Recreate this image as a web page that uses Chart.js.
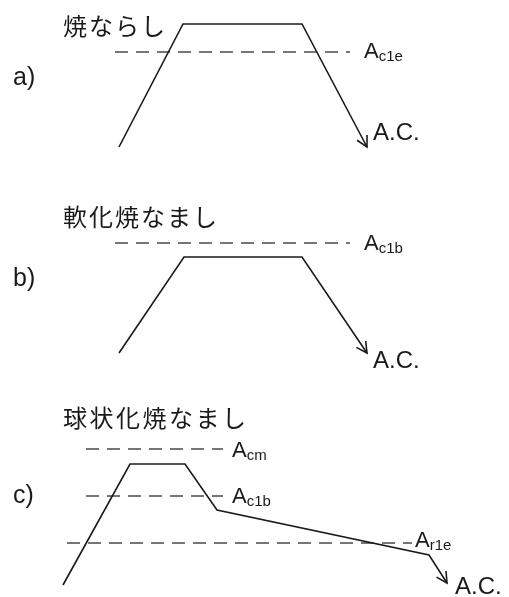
<!DOCTYPE html>
<html>
<head>
<meta charset="utf-8">
<script src="https://cdn.jsdelivr.net/npm/chart.js@4"></script>
<style>
  body { margin: 0; background: #fff; }
  canvas { display: block; }
</style>
</head>
<body>
<canvas id="panelA" width="509" height="190"></canvas>
<canvas id="panelB" width="509" height="190"></canvas>
<canvas id="panelC" width="509" height="217"></canvas>
<script>
// x = tiempo, y = temperatura (unidades arbitrarias del esquema)
const panelLetters = ['a)', 'b)', 'c)'];
const panelTitles = ['焼ならし', '軟化焼なまし', '球状化焼なまし'];
const coolLabel = 'A.C.';

const timeA = [119, 183, 302, 367];
const tempA = [43, 166, 166, 43];
const critSubA = ['c1e'];
const critTempA = [138];

const timeB = [119, 184, 302, 367];
const tempB = [27, 123, 123, 27];
const critSubB = ['c1b'];
const critTempB = [137];

const timeC = [63, 130, 185, 217, 429, 447];
const tempC = [12, 133, 133, 87, 42, 14];
const critSubC = ['cm', 'c1b', 'r1e'];
const critTempC = [148, 101, 54];

const lineColor = '#1a1a1a';
const dashColor = '#4a4a4a';
const jpFont = '"Noto Sans CJK JP", "Noto Sans", sans-serif';
const latFont = '"Liberation Sans", Arial, sans-serif';

const textos = {
  id: 'textos',
  afterDatasetsDraw(chart, args, opts) {
    const ctx = chart.ctx;
    const sx = chart.scales.x, sy = chart.scales.y;
    ctx.save();
    ctx.fillStyle = '#1a1a1a';

    // titulo del panel
    ctx.font = '24px ' + jpFont;
    ctx.letterSpacing = opts.titleSpacing + 'px';
    ctx.textBaseline = 'middle';
    ctx.fillText(opts.title, 63, opts.titleY);
    ctx.letterSpacing = '0px';

    // letra a) b) c)
    ctx.font = '25px ' + latFont;
    ctx.fillText(opts.letter, 13, opts.letterY);

    // etiquetas de temperaturas criticas
    ctx.textBaseline = 'alphabetic';
    opts.crits.forEach(c => {
      const px = sx.getPixelForValue(c.labelAt);
      const py = sy.getPixelForValue(c.temp) + c.dy;
      ctx.font = '22px ' + latFont;
      ctx.fillText('A', px, py);
      const w = ctx.measureText('A').width;
      ctx.font = '15px ' + latFont;
      ctx.fillText(c.sub, px + w, py + 3);
    });

    // flecha al final del enfriamiento
    const meta = chart.getDatasetMeta(0).data;
    const tip = meta[meta.length - 1], prev = meta[meta.length - 2];
    const ang = Math.atan2(prev.y - tip.y, prev.x - tip.x);
    const len = 12, spread = 28 * Math.PI / 180;
    ctx.strokeStyle = lineColor;
    ctx.lineWidth = 1.6;
    ctx.beginPath();
    ctx.moveTo(tip.x + len * Math.cos(ang - spread), tip.y + len * Math.sin(ang - spread));
    ctx.lineTo(tip.x, tip.y);
    ctx.lineTo(tip.x + len * Math.cos(ang + spread), tip.y + len * Math.sin(ang + spread));
    ctx.stroke();

    // A.C.
    ctx.font = '24px ' + latFont;
    ctx.textBaseline = 'middle';
    ctx.fillText(coolLabel, tip.x + opts.acDx, tip.y + opts.acDy);
    ctx.restore();
  }
};

function dibujar(id, height, time, temp, crits, extra) {
  const datasets = [{
    data: time.map((t, i) => ({ x: t, y: temp[i] })),
    showLine: true,
    borderColor: lineColor,
    borderWidth: 1.6,
    pointRadius: 0,
    tension: 0,
    clip: false
  }];
  crits.forEach(c => {
    datasets.push({
      data: [{ x: c.from, y: c.temp }, { x: c.to, y: c.temp }],
      showLine: true,
      borderColor: dashColor,
      borderWidth: 1.5,
      borderDash: [13, 8],
      pointRadius: 0,
      clip: false
    });
  });
  return new Chart(document.getElementById(id), {
    type: 'scatter',
    data: { datasets: datasets },
    options: {
      responsive: false,
      animation: false,
      events: [],
      layout: { padding: 0 },
      scales: {
        x: { type: 'linear', min: 0, max: 509, display: false },
        y: { type: 'linear', min: 0, max: height, display: false }
      },
      plugins: {
        legend: { display: false },
        tooltip: { enabled: false },
        textos: Object.assign({ crits: crits }, extra)
      }
    },
    plugins: [textos]
  });
}

dibujar('panelA', 190, timeA, tempA,
  [{ sub: critSubA[0], temp: critTempA[0], from: 115, to: 350, labelAt: 364, dy: 5.5 }],
  { title: panelTitles[0], titleY: 26, titleSpacing: 2, letter: panelLetters[0], letterY: 78, acDx: 6, acDy: -14 });

dibujar('panelB', 190, timeB, tempB,
  [{ sub: critSubB[0], temp: critTempB[0], from: 115, to: 350, labelAt: 364, dy: 7 }],
  { title: panelTitles[1], titleY: 27, titleSpacing: 2, letter: panelLetters[1], letterY: 89, acDx: 6, acDy: 8 });

dibujar('panelC', 217, timeC, tempC,
  [
    { sub: critSubC[0], temp: critTempC[0], from: 86, to: 223, labelAt: 232, dy: 8 },
    { sub: critSubC[1], temp: critTempC[1], from: 86, to: 223, labelAt: 232, dy: 7 },
    { sub: critSubC[2], temp: critTempC[2], from: 67, to: 412, labelAt: 415, dy: 4 }
  ],
  { title: panelTitles[2], titleY: 38, titleSpacing: 2.5, letter: panelLetters[2], letterY: 116, acDx: 8, acDy: 4 });
</script>
</body>
</html>
